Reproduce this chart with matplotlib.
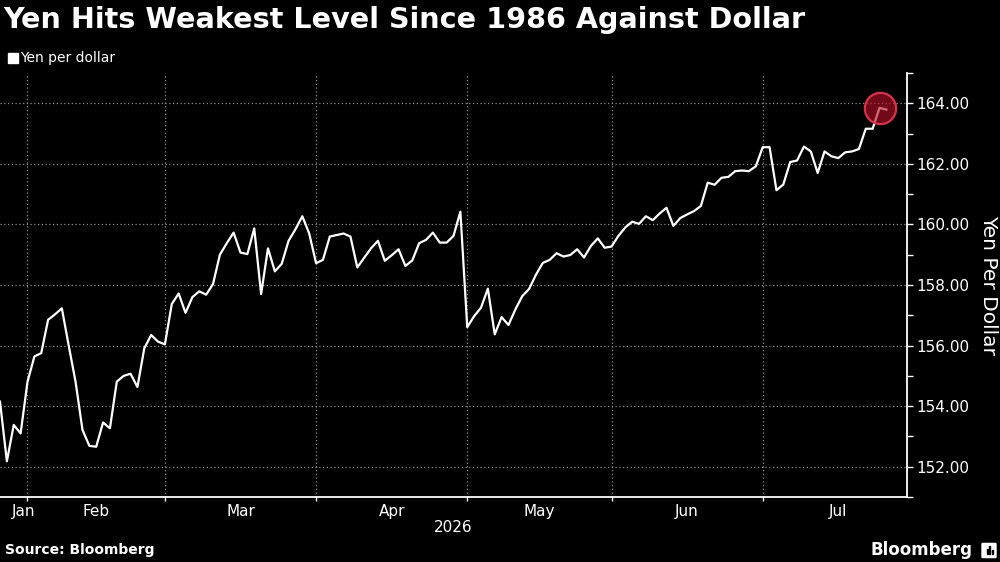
import numpy as np
import pandas as pd
from matplotlib import pyplot as plt
from matplotlib.patches import Rectangle, FancyBboxPatch

# yen per dollar, one value per business day from Jan 27 2026
yen = [154.15, 152.18, 153.38, 153.10, 154.80, 155.64, 155.75, 156.85, 157.03, 157.23,
       156.00, 154.80, 153.22, 152.69, 152.66, 153.46, 153.27, 154.81, 155.00, 155.07,
       154.63, 155.91, 156.35, 156.13, 156.04, 157.37, 157.72, 157.08, 157.60, 157.79,
       157.68, 158.03, 159.00, 159.38, 159.73, 159.07, 159.02, 159.87, 157.70, 159.21,
       158.45, 158.70, 159.46, 159.84, 160.27, 159.70, 158.72, 158.83, 159.60, 159.65,
       159.70, 159.60, 158.58, 158.90, 159.21, 159.46, 158.80, 158.98, 159.18, 158.63,
       158.81, 159.38, 159.49, 159.73, 159.40, 159.40, 159.62, 160.42, 156.61, 156.97,
       157.25, 157.88, 156.37, 156.94, 156.68, 157.19, 157.63, 157.87, 158.34, 158.73,
       158.83, 159.05, 158.94, 158.99, 159.18, 158.91, 159.29, 159.54, 159.23, 159.27,
       159.62, 159.90, 160.09, 160.02, 160.27, 160.14, 160.36, 160.55, 159.95, 160.21,
       160.33, 160.44, 160.61, 161.38, 161.31, 161.54, 161.57, 161.76, 161.78, 161.76,
       161.92, 162.55, 162.55, 161.13, 161.32, 162.06, 162.11, 162.57, 162.41, 161.70,
       162.41, 162.25, 162.19, 162.38, 162.41, 162.49, 163.16, 163.16, 163.85, 163.79]
dates = pd.bdate_range("2026-01-27", periods=len(yen))
yticks = [152, 154, 156, 158, 160, 162, 164]

x = np.arange(len(yen))
xmax = len(yen) + 2

# first trading day of each month -> gridline positions
month_id = dates.year * 12 + dates.month
starts = [i for i in range(1, len(dates)) if month_id[i] != month_id[i - 1]]
bounds = [0] + starts + [xmax + 1]
names = [dates[0].strftime("%b")] + [dates[i].strftime("%b") for i in starts]
mids = [(bounds[k] + bounds[k + 1]) / 2 for k in range(len(names))]
mids[0] = max(mids[0], 3.4)

fig = plt.figure(figsize=(10, 5.62), dpi=100, facecolor="black")
ax = fig.add_axes([0.0, 1 - 497 / 562, 0.907, (497 - 73) / 562])
ax.set_facecolor("black")

ax.plot(x, yen, color="white", lw=1.6, zorder=3)
imax = int(np.argmax(yen))
ax.plot(x[imax], yen[imax], "o", ms=22.5, mfc=(0.72, 0.06, 0.16, 0.62),
        mec=(0.84, 0.20, 0.30), mew=1.6, zorder=4)

ax.set_xlim(0, xmax)
ax.set_ylim(151, 165)
ax.yaxis.tick_right()
ax.yaxis.set_label_position("right")
ax.set_yticks(yticks)
ax.set_yticklabels([f"{v:.2f}" for v in yticks])
ax.set_yticks(np.arange(151, 166, 2), minor=True)
ax.set_xticks(starts)
ax.set_xticklabels([])
ax.set_xticks(mids, minor=True)
ax.set_xticklabels(names, minor=True)

ax.tick_params(axis="y", which="both", colors="white", direction="out",
               length=4, width=1, labelsize=11, pad=3)
ax.tick_params(axis="x", which="major", colors="white", length=3, width=1)
ax.tick_params(axis="x", which="minor", colors="white", length=0,
               labelsize=11, pad=5)

ax.grid(True, which="major", color="#8c8c8c", linestyle=(0, (1, 2)), lw=0.9)
for s in ["left", "top"]:
    ax.spines[s].set_visible(False)
for s in ["right", "bottom"]:
    ax.spines[s].set_color("white")
    ax.spines[s].set_linewidth(1.3)

ax.set_ylabel("Yen Per Dollar", color="white", fontsize=14.5, rotation=270,
              labelpad=20)
ax.text(0.5, -0.073, "2026", transform=ax.transAxes, color="white",
        fontsize=11, ha="center", va="center")

fig.text(0.003, 1 - 20 / 562, "Yen Hits Weakest Level Since 1986 Against Dollar",
         color="white", fontsize=20.6, fontweight="bold", va="center", ha="left")
fig.patches.append(Rectangle((8 / 1000, 1 - 63 / 562), 10 / 1000, 10 / 562,
                             transform=fig.transFigure, color="white"))
fig.text(0.020, 1 - 58 / 562, "Yen per dollar", color="white", fontsize=10,
         va="center", ha="left")

fig.text(0.005, 1 - 550 / 562, "Source: Bloomberg", color="white", fontsize=10,
         fontweight="bold", va="center", ha="left")
fig.text(0.973, 1 - 550 / 562, "Bloomberg", color="white", fontsize=12,
         fontweight="bold", va="center", ha="right")
# small logo square
fig.patches.append(FancyBboxPatch((983 / 1000, 1 - 557 / 562), 12 / 1000, 13 / 562,
                                  boxstyle="round,pad=0.001",
                                  transform=fig.transFigure, color="white"))
for bx, bh in [(986.5, 5), (989, 8), (991.5, 4)]:
    fig.patches.append(Rectangle((bx / 1000, 1 - 554 / 562), 1.3 / 1000, bh / 562,
                                 transform=fig.transFigure, color="black"))

fig.savefig("out.png", dpi=100, facecolor="black")
